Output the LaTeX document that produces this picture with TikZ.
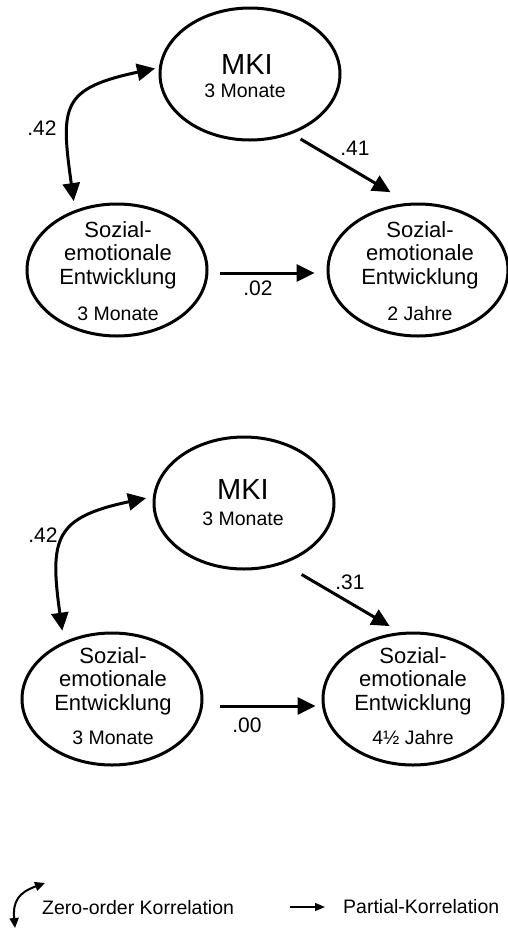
\documentclass[tikz,border=0pt]{standalone}
\usepackage{fontspec}
\setmainfont{Liberation Sans}
\usepackage{tikz}
\usetikzlibrary{arrows.meta, calc, shapes.geometric}

\begin{document}
\begin{tikzpicture}[x=1pt, y=-1pt,
  blase/.style={ellipse, draw, line width=3pt, minimum width=180pt, minimum height=132pt, inner sep=0pt},
  pfeil/.style={-{Triangle[length=18pt,width=17pt]}, line width=3pt},
  korr/.style={{Triangle[length=18pt,width=17pt]}-{Triangle[length=18pt,width=17pt]}, line width=3pt},
  pfeilklein/.style={-{Triangle[length=10pt,width=8pt]}, line width=1.5pt},
  korrklein/.style={{Triangle[length=10pt,width=9pt]}-{Triangle[length=10pt,width=9pt]}, line width=2pt},
  txt/.style={font=\fontsize{22}{23.5}\selectfont, align=center, inner sep=0pt},
  zeit/.style={font=\fontsize{19.5}{20}\selectfont, inner sep=0pt},
  mki/.style={font=\fontsize{29}{30}\selectfont, inner sep=0pt},
  koeff/.style={font=\fontsize{21}{22}\selectfont, inner sep=0pt},
  leg/.style={font=\fontsize{19.5}{20}\selectfont, inner sep=0pt, anchor=west}]
\useasboundingbox (0,0) rectangle (507,930);

% oben: 2 Jahre
\node[blase] (MKI1) at (250,74) {};
\node[mki] (MKI1n) at ($(MKI1)+(-3,-9)$) {MKI};
\node[zeit] (MKI1z) at ($(MKI1)+(-5,17)$) {3 Monate};
\node[blase] (SE1) at (117,270) {};
\node[txt] (SE1n) at ($(SE1)+(1,-15)$) {Sozial-\\emotionale\\Entwicklung};
\node[zeit] (SE1z) at ($(SE1)+(1,44)$) {3 Monate};
\node[blase] (SE2) at (418,270) {};
\node[txt] (SE2n) at ($(SE2)+(2,-15)$) {Sozial-\\emotionale\\Entwicklung};
\node[zeit] (SE2z) at ($(SE2)+(2,44)$) {2 Jahre};
\draw[korr, shorten <=9pt, shorten >=4pt] (SE1.125) .. controls +(98:105pt) and +(192:100pt) .. (MKI1.176);
\draw[pfeil, shorten <=10pt, shorten >=21pt] (MKI1.-55) -- (SE2.98);
\draw[pfeil, shorten <=11pt, shorten >=12pt] ([yshift=-3pt]SE1.east) -- ([yshift=-3pt]SE2.west);
\node[koeff] (r1) at (42,128) {.42};
\node[koeff] (r2) at (355,148) {.41};
\node[koeff] (r3) at (258,288) {.02};

% unten: 4 1/2 Jahre
\node[blase] (MKI2) at (244,503) {};
\node[mki] (MKI2n) at ($(MKI2)+(-1,-13)$) {MKI};
\node[zeit] (MKI2z) at ($(MKI2)+(-1,16)$) {3 Monate};
\node[blase] (SE3) at (112,699) {};
\node[txt] (SE3n) at ($(SE3)+(1,-18)$) {Sozial-\\emotionale\\Entwicklung};
\node[zeit] (SE3z) at ($(SE3)+(1,39)$) {3 Monate};
\node[blase] (SE4) at (413,699) {};
\node[txt] (SE4n) at ($(SE4)+(0,-18)$) {Sozial-\\emotionale\\Entwicklung};
\node[zeit] (SE4z) at ($(SE4)+(0,39)$) {4½ Jahre};
\draw[korr, shorten <=11pt, shorten >=7pt] (SE3.130) .. controls +(98:105pt) and +(192:100pt) .. (MKI2.176);
\draw[pfeil, shorten <=21pt, shorten >=12pt] (MKI2.-57) -- (SE4.101);
\draw[pfeil, shorten <=16pt, shorten >=6pt] ([yshift=-7pt]SE3.east) -- ([yshift=-7pt]SE4.west);
\node[koeff] (r4) at (43,535) {.42};
\node[koeff] (r5) at (350,582) {.31};
\node[koeff] (r6) at (247,725) {.00};

% Legende
\coordinate (leg1a) at (45,883);
\coordinate (leg1b) at (15,928);
\draw[korrklein] (leg1a) to[out=200, in=95, looseness=1.3] (leg1b);
\node[leg] (ZK) at (42,908) {Zero-order Korrelation};
\coordinate (leg2a) at (290,907);
\node[leg] (PK) at (343,907) {Partial-Korrelation};
\draw[pfeilklein, shorten >=18pt] (leg2a) -- (PK.west);
\end{tikzpicture}
\end{document}
